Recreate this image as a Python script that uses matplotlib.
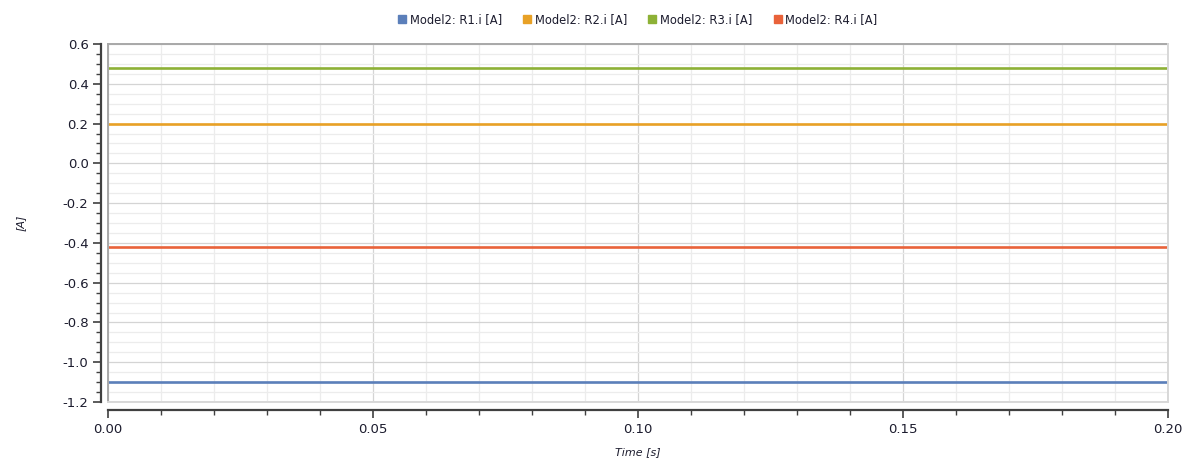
"""Constant branch currents of Model2 resistors over the simulation time."""

import matplotlib

matplotlib.use("Agg")

import matplotlib.pyplot as plt
from matplotlib.lines import Line2D
from matplotlib.ticker import MultipleLocator, FormatStrFormatter

TIME = [0.0, 0.2]
SERIES_NAMES = ["Model2: R1.i [A]", "Model2: R2.i [A]", "Model2: R3.i [A]", "Model2: R4.i [A]"]
R1_I = [-1.1, -1.1]
R2_I = [0.2, 0.2]
R3_I = [0.48, 0.48]
R4_I = [-0.42, -0.42]
COLORS = ["#5b7fba", "#e8a126", "#8db136", "#e9623a"]

TEXT_COLOR = "#1c1c2e"
AXIS_COLOR = "#404040"

plt.rcParams["font.family"] = ["DejaVu Sans"]

figure = plt.figure(figsize=(11.84, 4.61), dpi=100)
axis = figure.add_axes([108 / 1184, 1 - 402 / 461, 1060 / 1184, 358 / 461])

for values, name, color in zip([R1_I, R2_I, R3_I, R4_I], SERIES_NAMES, COLORS):
    axis.plot(TIME, values, color=color, linewidth=1.9, label=name, solid_capstyle="butt", zorder=3)

axis.set_xlim(0.0, 0.2)
axis.set_ylim(-1.2, 0.6)
axis.xaxis.set_major_locator(MultipleLocator(0.05))
axis.xaxis.set_minor_locator(MultipleLocator(0.01))
axis.yaxis.set_major_locator(MultipleLocator(0.2))
axis.yaxis.set_minor_locator(MultipleLocator(0.05))
axis.xaxis.set_major_formatter(FormatStrFormatter("%.2f"))
axis.yaxis.set_major_formatter(FormatStrFormatter("%.1f"))

axis.grid(which="major", color="#d4d4d4", linewidth=0.9)
axis.grid(which="minor", color="#ececec", linewidth=0.9)
axis.set_axisbelow(True)

for side in ("top", "right"):
    axis.spines[side].set_visible(False)
axis.spines["left"].set_position(("outward", 5))
axis.spines["bottom"].set_position(("outward", 6))
for side in ("left", "bottom"):
    axis.spines[side].set_color(AXIS_COLOR)
    axis.spines[side].set_linewidth(1.6)

axis.tick_params(which="major", length=6, width=1.2, color=AXIS_COLOR, labelsize=9.5,
                 labelcolor=TEXT_COLOR, pad=3)
axis.tick_params(which="minor", length=3.5, width=1.0, color=AXIS_COLOR)

# plot area frame: darker on top/left, lighter on right/bottom
frame_lines = [
    ([0, 1], [1, 1], "#a8a8a8"),
    ([0, 0], [0, 1], "#a8a8a8"),
    ([1, 1], [0, 1], "#d8d8d8"),
    ([0, 1], [0, 0], "#d8d8d8"),
]
for xs, ys, color in frame_lines:
    axis.add_line(Line2D(xs, ys, transform=axis.transAxes, color=color, linewidth=1.4,
                         clip_on=False, zorder=4))

axis.set_xlabel("Time [s]", fontsize=8, fontstyle="italic", color=TEXT_COLOR, labelpad=8)
axis.set_ylabel("[A]", fontsize=8, fontstyle="italic", color=TEXT_COLOR, labelpad=27)

handles = [
    Line2D([], [], linestyle="none", marker="s", markersize=6, markerfacecolor=color,
           markeredgecolor=color)
    for color in COLORS
]
figure.legend(handles, SERIES_NAMES, loc="center", bbox_to_anchor=(638 / 1184, 1 - 20 / 461),
              ncol=4, frameon=False, fontsize=8.3, handlelength=0.6, handletextpad=0.35,
              columnspacing=1.9, labelcolor=TEXT_COLOR)

figure.savefig("out.png", dpi=100)
plt.close(figure)
